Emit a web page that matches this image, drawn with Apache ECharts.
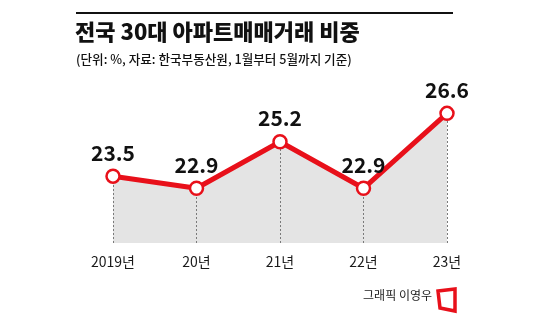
<!DOCTYPE html>
<html>
<head>
<meta charset="utf-8">
<script src="https://cdn.jsdelivr.net/npm/echarts@6/dist/echarts.min.js"></script>
<style>
  html, body { margin: 0; padding: 0; background: #fff; }
  #chart { width: 550px; height: 322px; }
</style>
</head>
<body>
<div id="chart"></div>
<script>
// 전국 30대 아파트 매매거래 비중 (1~5월 기준)
const years = ['2019년', '20년', '21년', '22년', '23년'];
const shares = [23.5, 22.9, 25.2, 22.9, 26.6];
const yMin = 20.2;
const yMax = 28;

const KR = '"Noto Sans CJK KR", "Noto Sans", sans-serif';
const RED = '#e8101a';

const chart = echarts.init(document.getElementById('chart'), null, { renderer: 'canvas' });

chart.setOption({
  backgroundColor: '#ffffff',
  animation: false,
  grid: { left: 113, right: 103, top: 85, bottom: 79 },
  xAxis: {
    type: 'category',
    data: years,
    boundaryGap: false,
    axisLine: { show: false },
    axisTick: { show: false },
    axisLabel: { color: '#1a1a1a', fontFamily: KR, fontSize: 14, margin: 12 }
  },
  yAxis: {
    type: 'value',
    min: yMin,
    max: yMax,
    show: false,
    splitLine: { show: false }
  },
  graphic: [
    { type: 'line', shape: { x1: 76, y1: 13, x2: 453, y2: 13 }, style: { stroke: '#111', lineWidth: 2 } },
    { type: 'text', left: 75, top: 21, style: { text: '전국 30대 아파트매매거래 비중', font: '900 22px ' + KR, fill: '#111' } },
    { type: 'text', left: 76, top: 53, style: { text: '(단위: %, 자료: 한국부동산원, 1월부터 5월까지 기준)', font: '500 12.6px ' + KR, fill: '#111' } },
    { type: 'text', right: 118, top: 289, style: { text: '그래픽 이영우', font: '12px ' + KR, fill: '#222' } },
    { type: 'polygon', shape: { points: [[438, 291], [455, 289], [455, 311], [440, 308]] },
      style: { fill: 'none', stroke: RED, lineWidth: 3.5, lineJoin: 'miter' } }
  ],
  series: [
    {
      // grey fill under the line, with dotted drops to the baseline
      type: 'line',
      data: shares,
      symbol: 'none',
      lineStyle: { width: 0 },
      areaStyle: { color: '#e4e4e4', opacity: 1 },
      z: 1,
      silent: true,
      markLine: {
        silent: true,
        symbol: 'none',
        z: 2,
        label: { show: false },
        lineStyle: { color: '#7a7a7a', type: [2, 2], width: 1 },
        data: years.map((y, i) => [{ coord: [y, yMin] }, { coord: [y, shares[i]] }])
      }
    },
    {
      type: 'line',
      data: shares,
      lineStyle: { color: RED, width: 5 },
      itemStyle: { color: '#fff', borderColor: RED, borderWidth: 2.5 },
      symbol: 'circle',
      symbolSize: 13,
      showAllSymbol: true,
      z: 3,
      label: {
        show: true,
        position: 'top',
        distance: 5,
        color: '#111',
        fontFamily: KR,
        fontWeight: 'bold',
        fontSize: 21,
        formatter: p => p.value.toFixed(1)
      }
    }
  ]
});
</script>
</body>
</html>
